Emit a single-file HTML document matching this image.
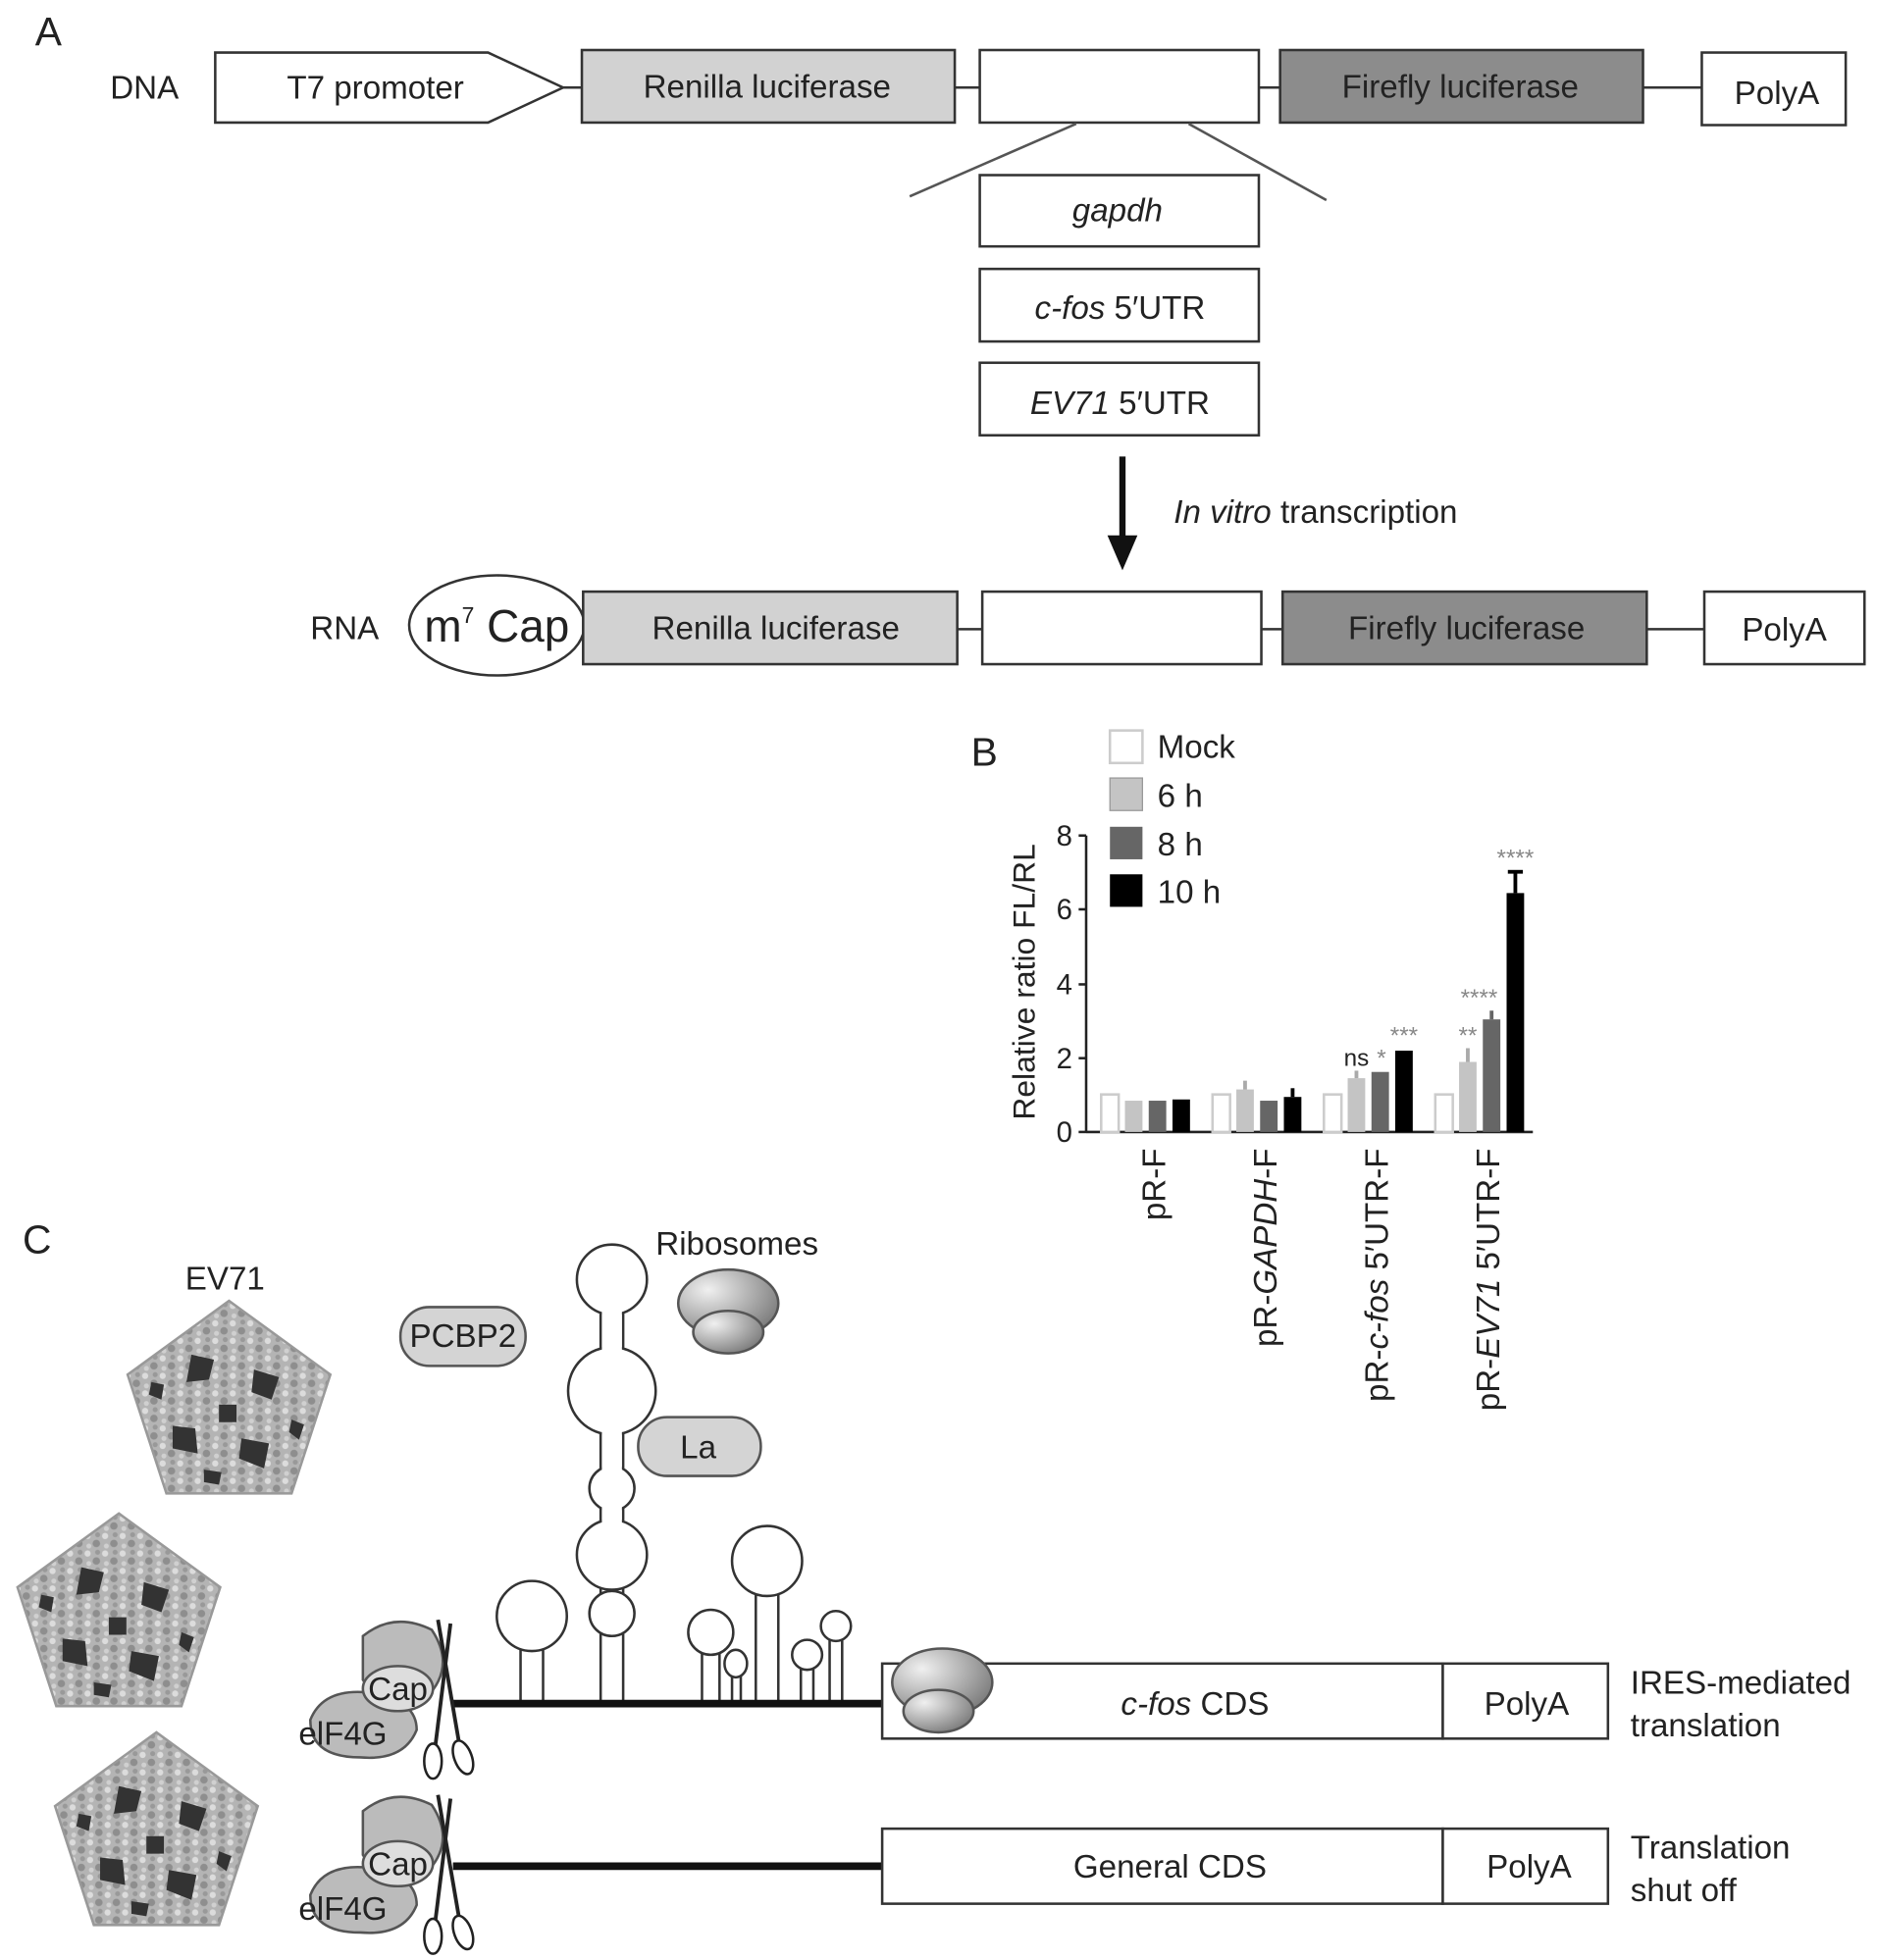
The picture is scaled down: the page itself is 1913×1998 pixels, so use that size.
<!DOCTYPE html>
<html><head><meta charset="utf-8"><style>
html,body{margin:0;padding:0;background:#fff;}
svg{display:block;}
text{font-family:"Liberation Sans",Arial,sans-serif;fill:#222;}
</style></head><body>
<svg width="1913" height="1998" viewBox="0 0 1500 1567" preserveAspectRatio="none" xmlns="http://www.w3.org/2000/svg">
<defs>
<radialGradient id="rib" cx="0.3" cy="0.3" r="0.9"><stop offset="0" stop-color="#f0f0f0"/><stop offset="1" stop-color="#6a6a6a"/></radialGradient>
<pattern id="vir" width="14" height="14" patternUnits="userSpaceOnUse">
<rect width="14" height="14" fill="#b4b4b4"/><circle cx="3" cy="3" r="2.5" fill="#dcdcdc"/><circle cx="10" cy="9" r="3" fill="#8e8e8e"/><circle cx="4" cy="11" r="2" fill="#d0d0d0"/><circle cx="11" cy="2" r="2" fill="#999"/>
</pattern>
<g id="virus">
<polygon points="0,-85 81,-26 50,69 -50,69 -81,-26" fill="url(#vir)" stroke="#999" stroke-width="2"/>
<path d="M-30,-42 l18,4 l-4,16 l-18,2z M20,-30 l20,6 l-6,18 l-16,-6z M10,25 l22,4 l-4,20 l-20,-8z M-45,15 l18,2 l2,20 l-20,-4z M-8,-2 l14,0 l0,14 l-14,0z M-62,-20 l10,2 l-2,12 l-10,-4z M50,10 l10,4 l-4,12 l-8,-6z M-20,50 l14,2 l-2,10 l-12,-2z" fill="#333"/>
</g>
<g id="capc">
<path d="M-30,-42 q25,-20 55,-5 q20,30 -5,55 q-35,10 -50,-15z" fill="#bbb" stroke="#555" stroke-width="2"/>
<path d="M-72,25 q10,-25 45,-22 q40,5 40,30 q-10,25 -45,22 q-40,0 -40,-30z" fill="#bbb" stroke="#555" stroke-width="2"/>
<ellipse cx="-2" cy="0" rx="28" ry="18" fill="#ddd" stroke="#555" stroke-width="2"/>
<text x="-2" y="9" font-size="26" text-anchor="middle">Cap</text>
<text x="-46" y="45" font-size="26" text-anchor="middle">elF4G</text>
<line x1="30" y1="-55" x2="48" y2="50" stroke="#222" stroke-width="3"/>
<line x1="40" y1="-52" x2="28" y2="45" stroke="#222" stroke-width="3"/>
<ellipse cx="26" cy="58" rx="7" ry="14" fill="#fff" stroke="#222" stroke-width="2"/>
<ellipse cx="50" cy="55" rx="7" ry="14" fill="#fff" stroke="#222" stroke-width="2" transform="rotate(-20 50 55)"/>
</g>
</defs>

<!-- Panel A -->
<text x="28" y="36" font-size="32">A</text>
<text x="88" y="79" font-size="26">DNA</text>
<polygon points="172,42 390,42 450,70 390,98 172,98" fill="#fff" stroke="#333" stroke-width="2"/>
<text x="300" y="79" font-size="26" text-anchor="middle">T7 promoter</text>
<line x1="450" y1="70" x2="465" y2="70" stroke="#333" stroke-width="2"/>
<rect x="465" y="40" width="298" height="58" fill="#d2d2d2" stroke="#333" stroke-width="2"/>
<text x="613" y="78" font-size="26" text-anchor="middle">Renilla luciferase</text>
<line x1="763" y1="70" x2="783" y2="70" stroke="#333" stroke-width="2"/>
<rect x="783" y="40" width="223" height="58" fill="#fff" stroke="#333" stroke-width="2"/>
<line x1="1006" y1="70" x2="1023" y2="70" stroke="#333" stroke-width="2"/>
<rect x="1023" y="40" width="290" height="58" fill="#8c8c8c" stroke="#333" stroke-width="2"/>
<text x="1167" y="78" font-size="26" text-anchor="middle">Firefly luciferase</text>
<line x1="1313" y1="70" x2="1360" y2="70" stroke="#333" stroke-width="2"/>
<rect x="1360" y="42" width="115" height="58" fill="#fff" stroke="#333" stroke-width="2"/>
<text x="1420" y="83" font-size="26" text-anchor="middle">PolyA</text>
<line x1="860" y1="99" x2="727" y2="157" stroke="#555" stroke-width="2"/>
<line x1="950" y1="99" x2="1060" y2="160" stroke="#555" stroke-width="2"/>
<rect x="783" y="140" width="223" height="57" fill="#fff" stroke="#333" stroke-width="2"/>
<text x="893" y="177" font-size="26" text-anchor="middle" font-style="italic">gapdh</text>
<rect x="783" y="215" width="223" height="58" fill="#fff" stroke="#333" stroke-width="2"/>
<text x="895" y="255" font-size="26" text-anchor="middle"><tspan font-style="italic">c-fos</tspan> 5′UTR</text>
<rect x="783" y="290" width="223" height="58" fill="#fff" stroke="#333" stroke-width="2"/>
<text x="895" y="331" font-size="26" text-anchor="middle"><tspan font-style="italic">EV71</tspan> 5′UTR</text>
<line x1="897" y1="365" x2="897" y2="432" stroke="#111" stroke-width="5"/>
<polygon points="885,428 909,428 897,456" fill="#111"/>
<text x="938" y="418" font-size="26"><tspan font-style="italic">In vitro</tspan> transcription</text>
<text x="248" y="511" font-size="26">RNA</text>
<ellipse cx="397" cy="500" rx="70" ry="40" fill="#fff" stroke="#333" stroke-width="2"/>
<text x="397" y="513" font-size="36" text-anchor="middle">m<tspan font-size="18" dy="-15">7</tspan><tspan dy="15"> Cap</tspan></text>
<rect x="466" y="473" width="299" height="58" fill="#d2d2d2" stroke="#333" stroke-width="2"/>
<text x="620" y="511" font-size="26" text-anchor="middle">Renilla luciferase</text>
<line x1="765" y1="503" x2="785" y2="503" stroke="#333" stroke-width="2"/>
<rect x="785" y="473" width="223" height="58" fill="#fff" stroke="#333" stroke-width="2"/>
<line x1="1008" y1="503" x2="1025" y2="503" stroke="#333" stroke-width="2"/>
<rect x="1025" y="473" width="291" height="58" fill="#8c8c8c" stroke="#333" stroke-width="2"/>
<text x="1172" y="511" font-size="26" text-anchor="middle">Firefly luciferase</text>
<line x1="1316" y1="503" x2="1362" y2="503" stroke="#333" stroke-width="2"/>
<rect x="1362" y="473" width="128" height="58" fill="#fff" stroke="#333" stroke-width="2"/>
<text x="1426" y="512" font-size="26" text-anchor="middle">PolyA</text>

<!-- Panel B -->
<text x="776" y="612" font-size="32">B</text>
<rect x="887" y="584" width="26" height="26" fill="#fff" stroke="#ccc" stroke-width="2"/>
<text x="925" y="606" font-size="26">Mock</text>
<rect x="887" y="622" width="26" height="26" fill="#c4c4c4" stroke="#999" stroke-width="1"/>
<text x="925" y="645" font-size="26">6 h</text>
<rect x="887" y="661" width="26" height="26" fill="#666"/>
<text x="925" y="684" font-size="26">8 h</text>
<rect x="887" y="699" width="26" height="26" fill="#000"/>
<text x="925" y="722" font-size="26">10 h</text>
<line x1="868" y1="668" x2="868" y2="905" stroke="#222" stroke-width="2"/>
<line x1="868" y1="905" x2="1225" y2="905" stroke="#222" stroke-width="2"/>
<g font-size="23" text-anchor="end">
<text x="857" y="913">0</text><text x="857" y="854">2</text><text x="857" y="795">4</text><text x="857" y="735">6</text><text x="857" y="676">8</text>
</g>
<g stroke="#222" stroke-width="2">
<line x1="862" y1="905" x2="868" y2="905"/><line x1="862" y1="846" x2="868" y2="846"/><line x1="862" y1="787" x2="868" y2="787"/><line x1="862" y1="727" x2="868" y2="727"/><line x1="862" y1="668" x2="868" y2="668"/>
</g>
<text transform="translate(827,785) rotate(-90)" font-size="25" text-anchor="middle">Relative ratio FL/RL</text>
<g>
<rect x="880" y="875" width="14" height="30" fill="#fff" stroke="#ccc" stroke-width="2"/>
<rect x="899" y="880" width="14" height="25" fill="#c4c4c4"/>
<rect x="918" y="880" width="14" height="25" fill="#666"/>
<rect x="937" y="879" width="14" height="26" fill="#000"/>
<rect x="969" y="875" width="14" height="30" fill="#fff" stroke="#ccc" stroke-width="2"/>
<rect x="988" y="871" width="14" height="34" fill="#c4c4c4"/><line x1="995" y1="871" x2="995" y2="864" stroke="#aaa" stroke-width="3"/>
<rect x="1007" y="880" width="14" height="25" fill="#666"/>
<rect x="1026" y="877" width="14" height="28" fill="#000"/><line x1="1033" y1="877" x2="1033" y2="870" stroke="#000" stroke-width="3"/>
<rect x="1058" y="875" width="14" height="30" fill="#fff" stroke="#ccc" stroke-width="2"/>
<rect x="1077" y="862" width="14" height="43" fill="#c4c4c4"/><line x1="1084" y1="862" x2="1084" y2="856" stroke="#aaa" stroke-width="3"/>
<rect x="1096" y="857" width="14" height="48" fill="#666"/>
<rect x="1115" y="840" width="14" height="65" fill="#000"/>
<rect x="1147" y="875" width="14" height="30" fill="#fff" stroke="#ccc" stroke-width="2"/>
<rect x="1166" y="849" width="14" height="56" fill="#c4c4c4"/><line x1="1173" y1="849" x2="1173" y2="838" stroke="#aaa" stroke-width="3"/>
<rect x="1185" y="815" width="14" height="90" fill="#666"/><line x1="1192" y1="815" x2="1192" y2="808" stroke="#666" stroke-width="3"/>
<rect x="1204" y="714" width="14" height="191" fill="#000"/><line x1="1211" y1="714" x2="1211" y2="697" stroke="#000" stroke-width="3"/><line x1="1205" y1="697" x2="1217" y2="697" stroke="#000" stroke-width="3"/>
</g>
<g font-size="19" text-anchor="middle">
<text x="1084" y="852" fill="#333">ns</text><text x="1104" y="852" style="fill:#888">*</text><text x="1122" y="834" style="fill:#888">***</text>
<text x="1173" y="834" style="fill:#888">**</text><text x="1182" y="804" style="fill:#888">****</text><text x="1211" y="692" style="fill:#888">****</text>
</g>
<g font-size="26" text-anchor="end">
<text transform="translate(931,918) rotate(-90)">pR-F</text>
<text transform="translate(1020,918) rotate(-90)">pR-<tspan font-style="italic">GAPDH</tspan>-F</text>
<text transform="translate(1109,918) rotate(-90)">pR-<tspan font-style="italic">c-fos</tspan> 5′UTR-F</text>
<text transform="translate(1198,918) rotate(-90)">pR-<tspan font-style="italic">EV71</tspan> 5′UTR-F</text>
</g>

<!-- Panel C -->
<text x="18" y="1002" font-size="32">C</text>
<text x="148" y="1031" font-size="26">EV71</text>
<use href="#virus" transform="translate(183,1125)"/>
<use href="#virus" transform="translate(95,1295)"/>
<use href="#virus" transform="translate(125,1470)"/>
<text x="524" y="1003" font-size="26">Ribosomes</text>
<ellipse cx="582" cy="1042" rx="40" ry="27" fill="url(#rib)" stroke="#555" stroke-width="2"/>
<ellipse cx="582" cy="1065" rx="28" ry="17" fill="url(#rib)" stroke="#555" stroke-width="2"/>
<rect x="320" y="1045" width="100" height="47" rx="23" fill="#d4d4d4" stroke="#555" stroke-width="2"/>
<text x="370" y="1077" font-size="26" text-anchor="middle">PCBP2</text>
<g fill="#fff" stroke="#333" stroke-width="2">
<line x1="480" y1="1045" x2="480" y2="1362"/><line x1="498" y1="1045" x2="498" y2="1362"/>
<circle cx="489" cy="1023" r="28"/>
<circle cx="489" cy="1112" r="35"/>
<circle cx="489" cy="1190" r="18"/>
<circle cx="489" cy="1243" r="28"/>
<circle cx="489" cy="1290" r="18"/>
<line x1="416" y1="1310" x2="416" y2="1362"/><line x1="434" y1="1310" x2="434" y2="1362"/>
<circle cx="425" cy="1292" r="28"/>
<line x1="604" y1="1270" x2="604" y2="1362"/><line x1="622" y1="1270" x2="622" y2="1362"/>
<circle cx="613" cy="1248" r="28"/>
<line x1="561" y1="1320" x2="561" y2="1362"/><line x1="575" y1="1320" x2="575" y2="1362"/>
<circle cx="568" cy="1305" r="18"/>
<line x1="585" y1="1338" x2="585" y2="1362"/><line x1="592" y1="1338" x2="592" y2="1362"/>
<ellipse cx="588" cy="1330" rx="9" ry="11"/>
<line x1="640" y1="1333" x2="640" y2="1362"/><line x1="650" y1="1333" x2="650" y2="1362"/>
<circle cx="645" cy="1323" r="12"/>
<line x1="663" y1="1310" x2="663" y2="1362"/><line x1="673" y1="1310" x2="673" y2="1362"/>
<circle cx="668" cy="1300" r="12"/>
</g>
<g fill="#fff"><rect x="481" y="1045" width="16" height="40"/><rect x="481" y="1140" width="16" height="40"/><rect x="481" y="1200" width="16" height="30"/></g>
<rect x="510" y="1133" width="98" height="47" rx="23" fill="#d4d4d4" stroke="#555" stroke-width="2"/>
<text x="558" y="1166" font-size="26" text-anchor="middle">La</text>
<line x1="362" y1="1362" x2="706" y2="1362" stroke="#111" stroke-width="6"/>
<rect x="705" y="1330" width="448" height="60" fill="#fff" stroke="#333" stroke-width="2"/>
<rect x="1153" y="1330" width="132" height="60" fill="#fff" stroke="#333" stroke-width="2"/>
<text x="955" y="1371" font-size="26" text-anchor="middle"><tspan font-style="italic">c-fos</tspan> CDS</text>
<text x="1220" y="1371" font-size="26" text-anchor="middle">PolyA</text>
<ellipse cx="753" cy="1345" rx="40" ry="27" fill="url(#rib)" stroke="#555" stroke-width="2"/>
<ellipse cx="750" cy="1368" rx="28" ry="17" fill="url(#rib)" stroke="#555" stroke-width="2"/>
<text x="1303" y="1354" font-size="26">IRES-mediated</text>
<text x="1303" y="1388" font-size="26">translation</text>
<line x1="362" y1="1492" x2="706" y2="1492" stroke="#111" stroke-width="6"/>
<rect x="705" y="1462" width="448" height="60" fill="#fff" stroke="#333" stroke-width="2"/>
<rect x="1153" y="1462" width="132" height="60" fill="#fff" stroke="#333" stroke-width="2"/>
<text x="935" y="1501" font-size="26" text-anchor="middle">General CDS</text>
<text x="1222" y="1501" font-size="26" text-anchor="middle">PolyA</text>
<text x="1303" y="1486" font-size="26">Translation</text>
<text x="1303" y="1520" font-size="26">shut off</text>
<use href="#capc" transform="translate(320,1350)"/>
<use href="#capc" transform="translate(320,1490)"/>
</svg>
</body></html>
